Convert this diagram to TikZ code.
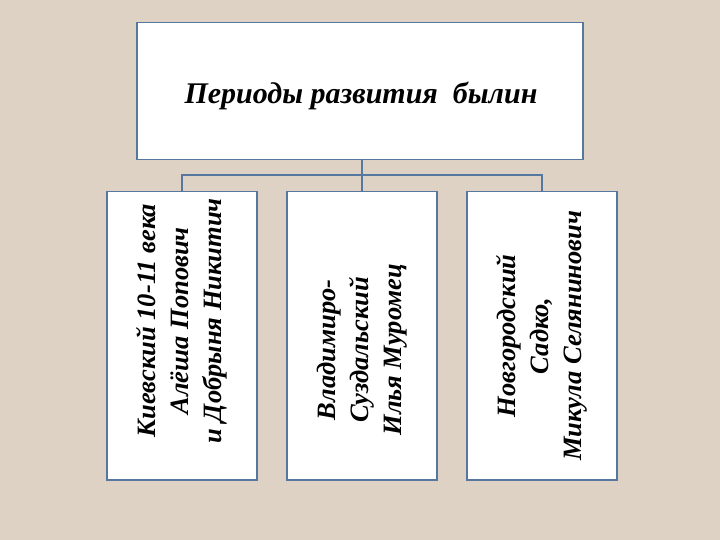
\documentclass[tikz,border=0pt]{standalone}
\usepackage{fontspec}
\setmainfont{Liberation Serif}
\begin{document}
\begin{tikzpicture}[x=1pt,y=-1pt,
  box/.style={draw=linec,line width=1.5pt,fill=white},
  conn/.style={draw=linec,line width=1.5pt},
  vt/.style={rotate=90,align=center,font=\bfseries\itshape\fontsize{26.5}{33}\selectfont}]
\definecolor{bg}{HTML}{DDD2C4}
\definecolor{linec}{HTML}{56779F}
\fill[bg] (0,0) rectangle (720,540);
\useasboundingbox (0,0) rectangle (720,540);
\node[box,minimum width=446,minimum height=137,anchor=north west] (top) at (136,22) {};
\node[font=\bfseries\itshape\fontsize{30}{34}\selectfont] (title) at (361,96) {Периоды развития\ \ былин};
\node[box,minimum width=150,minimum height=288,anchor=north west] (a) at (106,191) {};
\node[box,minimum width=150,minimum height=288,anchor=north west] (b) at (286,191) {};
\node[box,minimum width=150,minimum height=288,anchor=north west] (c) at (466,191) {};
\node[vt] (ta) at ([yshift=15]a.center) {Киевский 10-11 века\\Алёша Попович\\и Добрыня Никитич};
\node[vt] (tb) at ([yshift=-14]b.center) {Владимиро-\\Суздальский\\Илья Муромец};
\node[vt] (tc) at (c.center) {Новгородский\\Садко,\\Микула Селянинович};
\coordinate (j) at ([yshift=16]b.north);
\draw[conn] (top.south -| j) -- (j);
\draw[conn] (a.north) -- (a.north |- j) -- (c.north |- j) -- (c.north);
\draw[conn] (j) -- (b.north);
\end{tikzpicture}
\end{document}
